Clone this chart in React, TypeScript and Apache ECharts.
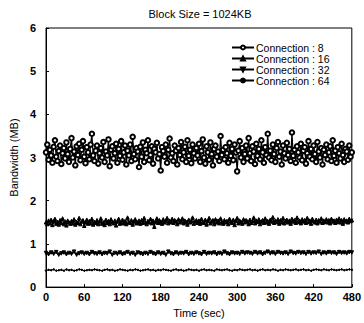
import React, { useEffect, useRef } from "react";
import * as echarts from "echarts";

const seriesNames = ["Connection : 8", "Connection : 16", "Connection : 32", "Connection : 64"];
const xTickLabels = [0, 60, 120, 180, 240, 300, 360, 420, 480];
// seconds between samples of each series
const stepFine = 2;
const stepCoarse = 4;

const conn8 = [
  3.12,3.30,2.95,3.18,3.05,2.88,3.25,3.40,3.02,2.92,3.15,3.28,2.85,3.10,3.22,2.98,3.35,3.08,2.90,3.20,
  3.45,3.00,3.14,2.82,3.26,3.06,3.32,2.94,3.18,3.38,3.02,2.87,3.24,3.12,2.96,3.30,3.55,3.05,2.92,3.16,
  3.28,2.86,3.10,3.22,3.00,3.36,2.90,3.14,3.05,3.42,2.80,3.18,3.26,2.98,3.10,3.32,2.88,3.20,3.04,3.38,
  2.95,3.12,3.28,2.84,3.16,3.05,3.30,2.92,3.48,3.08,2.96,3.22,3.14,2.78,3.25,3.02,3.35,2.90,3.18,3.10,
  3.40,2.94,3.06,3.26,2.86,3.20,3.12,3.34,2.98,3.08,2.70,3.24,3.15,3.02,3.30,2.88,3.18,3.44,3.00,3.10,
  2.92,3.28,3.16,2.84,3.22,3.06,3.36,2.96,3.12,3.25,2.90,3.40,3.04,3.18,2.87,3.30,3.10,2.98,3.22,3.05,
  3.32,2.90,3.15,3.42,3.00,2.86,3.26,3.12,2.95,3.35,3.08,2.82,3.20,3.28,3.02,3.14,2.92,3.50,3.06,3.18,
  2.96,3.24,3.10,2.88,3.34,3.04,3.20,2.94,3.30,3.12,2.68,3.16,3.38,3.00,3.22,2.90,3.08,3.28,2.98,3.45,
  3.10,2.92,3.26,3.14,2.85,3.32,3.04,3.20,2.96,3.40,3.12,2.88,3.24,3.06,3.55,3.00,3.16,2.94,3.30,3.08,
  2.90,3.22,3.36,3.02,3.14,2.84,3.28,3.10,2.98,3.34,3.06,3.20,2.92,3.58,3.04,3.18,2.88,3.26,3.12,3.00,
  3.32,2.94,3.16,3.24,2.86,3.10,3.38,3.02,3.20,2.96,3.28,3.08,2.90,3.36,3.14,3.00,3.22,2.84,3.18,3.06,
  3.30,2.96,3.12,3.26,2.92,3.40,3.04,3.16,2.88,3.24,3.10,2.98,3.32,3.06,2.90,3.20,3.14,2.95,3.28,3.02,
  3.12,
];
const conn16 = [
  1.50,1.46,1.54,1.48,1.56,1.44,1.52,1.58,1.47,1.51,1.45,1.55,1.49,1.59,1.46,1.52,1.43,1.54,1.50,1.47,
  1.53,1.48,1.57,1.45,1.51,1.49,1.60,1.46,1.52,1.55,1.42,1.50,1.56,1.47,1.53,1.48,1.58,1.45,1.51,1.49,
  1.55,1.46,1.52,1.59,1.47,1.50,1.44,1.56,1.49,1.53,1.46,1.57,1.51,1.48,1.54,1.43,1.52,1.58,1.47,1.50,
  1.56,1.48,1.53,1.46,1.61,1.51,1.49,1.55,1.45,1.52,1.57,1.48,1.50,1.54,1.47,1.55,1.49,1.60,1.51,1.46,
  1.53,1.50,1.58,1.48,1.54,1.40,1.52,1.59,1.49,1.55,1.51,1.47,1.57,1.50,1.53,1.60,1.48,1.54,1.51,1.58,
  1.49,1.55,1.52,1.46,1.57,1.50,1.53,1.59,1.48,1.54,1.51,1.45,1.56,1.50,1.53,1.61,1.47,1.52,1.55,1.49,
  1.54,1.47,1.58,1.51,1.49,1.56,1.45,1.53,1.60,1.48,1.52,1.55,1.46,1.57,1.50,1.54,1.48,1.59,1.51,1.47,
  1.55,1.50,1.53,1.46,1.58,1.52,1.49,1.56,1.44,1.53,1.60,1.48,1.54,1.51,1.47,1.57,1.50,1.55,1.52,1.46,
  1.56,1.49,1.53,1.61,1.48,1.54,1.51,1.57,1.46,1.52,1.55,1.49,1.59,1.50,1.53,1.47,1.56,1.52,1.62,1.49,
  1.54,1.51,1.57,1.47,1.55,1.50,1.60,1.48,1.53,1.56,1.50,1.54,1.47,1.58,1.52,1.55,1.49,1.61,1.51,1.54,
  1.48,1.57,1.52,1.55,1.49,1.60,1.51,1.54,1.47,1.58,1.53,1.50,1.56,1.48,1.55,1.52,1.59,1.49,1.54,1.51,
  1.57,1.50,1.55,1.48,1.58,1.52,1.54,1.49,1.56,1.51,1.59,1.50,1.55,1.47,1.57,1.52,1.54,1.50,1.58,1.53,
  1.55,
];
const conn32 = [
  0.79,0.76,0.80,0.77,0.81,0.75,0.78,0.80,0.76,0.79,0.77,0.82,0.75,0.78,0.80,0.77,0.79,0.76,0.81,0.78,
  0.77,0.80,0.76,0.79,0.78,0.82,0.75,0.79,0.77,0.80,0.76,0.78,0.81,0.77,0.79,0.75,0.80,0.78,0.76,0.79,
  0.77,0.81,0.78,0.76,0.80,0.77,0.79,0.75,0.82,0.78,0.76,0.80,0.77,0.79,0.78,0.81,0.76,0.79,0.77,0.80,
  0.78,0.76,0.81,0.77,0.79,0.78,0.80,0.76,0.79,0.77,0.82,0.78,0.76,0.80,0.78,0.79,0.77,0.81,0.78,0.80,
  0.79,0.77,0.81,0.78,0.80,0.76,0.79,0.82,0.78,0.80,0.77,0.81,0.79,0.78,0.80,0.77,0.82,0.79,0.78,0.81,
  0.79,0.80,0.77,0.81,0.78,0.80,0.79,0.82,0.77,0.80,0.78,0.81,0.79,0.80,0.77,0.81,0.79,0.80,0.78,0.81,0.80,
];
const conn64 = [
  0.38,0.40,0.39,0.41,0.38,0.39,0.40,0.38,0.41,0.39,0.40,0.38,0.39,0.41,0.40,0.38,0.39,0.40,0.39,0.41,
  0.40,0.39,0.38,0.40,0.41,0.39,0.40,0.38,0.39,0.41,0.40,0.39,0.38,0.40,0.39,0.41,0.40,0.38,0.39,0.40,
  0.41,0.39,0.40,0.38,0.40,0.39,0.41,0.40,0.39,0.38,0.40,0.41,0.39,0.40,0.38,0.39,0.41,0.40,0.39,0.40,
  0.38,0.40,0.41,0.39,0.40,0.39,0.38,0.41,0.40,0.39,0.40,0.41,0.39,0.38,0.40,0.39,0.41,0.40,0.39,0.40,
  0.41,0.39,0.40,0.38,0.40,0.41,0.39,0.40,0.39,0.41,0.40,0.38,0.40,0.39,0.41,0.40,0.39,0.40,0.41,0.39,
  0.40,0.41,0.39,0.40,0.38,0.40,0.41,0.40,0.39,0.41,0.40,0.39,0.41,0.40,0.39,0.40,0.41,0.39,0.40,0.41,0.40,
];

const toPairs = (vals: number[], step: number) => vals.map((v, i) => [i * step, v]);

export default function App() {
  const ref = useRef<HTMLDivElement>(null);
  useEffect(() => {
    if (!ref.current) return;
    const chart = echarts.init(ref.current, undefined, { renderer: "svg" });
    const font = "'Liberation Sans', Arial, sans-serif";
    const symbols = ["emptyCircle", "triangle", "triangle", "circle"];
    const rotates = [0, 0, 180, 0];
    const sizes = [4.5, 3.5, 3.5, 1.5];
    const widths = [1.2, 1.2, 1.2, 1];
    const datas = [conn8, conn16, conn32, conn64];
    const steps = [stepFine, stepFine, stepCoarse, stepCoarse];
    chart.setOption({
      animation: false,
      backgroundColor: "#fff",
      title: {
        text: "Block Size = 1024KB",
        left: 195,
        textAlign: "center",
        top: 3,
        textStyle: { fontFamily: font, fontSize: 11, fontWeight: "normal", color: "#000" },
      },
      legend: {
        orient: "vertical",
        left: 226,
        top: 37,
        itemWidth: 22,
        itemHeight: 5,
        itemGap: 0,
        data: seriesNames,
        textStyle: { fontFamily: font, fontSize: 10.5, color: "#000", padding: [0, 0, 0, -3] },
      },
      grid: { left: 36, right: 11, top: 28, bottom: 31, show: true, borderColor: "#000", borderWidth: 1 },
      xAxis: {
        type: "value",
        min: 0,
        max: 480,
        interval: 60,
        name: "Time (sec)",
        nameLocation: "middle",
        nameGap: 17,
        nameTextStyle: { fontFamily: font, fontSize: 11, color: "#000" },
        axisLine: { lineStyle: { color: "#000" } },
        axisTick: { inside: true, length: 3, lineStyle: { color: "#000" } },
        axisLabel: {
          fontFamily: font, fontSize: 11, color: "#000", margin: 4, fontWeight: "bold",
          formatter: (v: number) => (xTickLabels.includes(v) ? String(v) : ""),
        },
        splitLine: { show: false },
      },
      yAxis: {
        type: "value",
        min: 0,
        max: 6,
        interval: 1,
        name: "Bandwidth (MB)",
        nameLocation: "middle",
        nameGap: 20,
        nameTextStyle: { fontFamily: font, fontSize: 11, color: "#000" },
        axisLine: { lineStyle: { color: "#000" } },
        axisTick: { inside: true, length: 3, lineStyle: { color: "#000" } },
        axisLabel: { fontFamily: font, fontSize: 11, color: "#000", margin: 10, fontWeight: "bold" },
        splitLine: { show: false },
      },
      series: seriesNames.map((name, k) => ({
        name,
        type: "line",
        data: toPairs(datas[k], steps[k]),
        symbol: symbols[k],
        symbolSize: sizes[k],
        symbolRotate: rotates[k],
        showAllSymbol: true,
        lineStyle: { color: "#000", width: widths[k] },
        itemStyle: { color: "#000", borderColor: "#000", borderWidth: 1 },
        emphasis: { disabled: true },
      })),
    });
    return () => chart.dispose();
  }, []);
  return <div ref={ref} style={{ width: 364, height: 323, position: "absolute", left: 0, top: 0 }} />;
}
